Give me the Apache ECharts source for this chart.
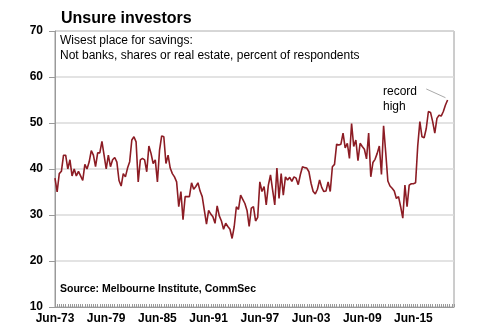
<!DOCTYPE html>
<html>
<head>
<meta charset="utf-8">
<title>Unsure investors</title>
<script src="https://cdn.jsdelivr.net/npm/echarts@6/dist/echarts.min.js"></script>
<style>
  html, body { margin: 0; padding: 0; background: #fff; }
  #chart { width: 488px; height: 330px; }
</style>
</head>
<body>
<div id="chart"></div>
<script>
// quarterly survey readings, Jun-73 onwards (% of respondents)
var values = [
  38, 35, 39, 39.5, 43, 43, 40, 42, 38.5, 40,
  38.5, 39.5, 38.5, 37.5, 41, 40, 41.5, 44, 43, 40.5,
  43.5, 43.5, 46, 43, 40, 43, 40.5, 42, 42.5, 41.5,
  37.5, 36.3, 39, 38.3, 40.2, 41.6, 46.3, 47, 45.9, 37.2,
  42, 42.3, 42, 39.4, 45, 43.4, 41.2, 42, 37.2, 44.1,
  47.2, 47, 41.2, 43, 40.2, 39, 38.3, 37.2, 31.8, 35.1,
  29, 34, 34, 34, 37, 35.6, 36.2, 37, 35.2, 34,
  31, 28, 31, 30.2, 29.6, 28.2, 32, 29.8, 28.7, 26.9,
  28.2, 27.5, 26.9, 24.9, 27.5, 31.8, 31.2, 34.3, 33.4, 32.5,
  31, 27.5, 31.5, 31.8, 28.7, 29.5, 37.2, 35.1, 36.2, 32.2,
  36.5, 38.7, 35.4, 32.2, 40.2, 33.6, 39, 34.3, 38.3, 37.6,
  38.2, 37.3, 38.3, 38, 36.6, 38.8, 40.5, 40.3, 40.2, 39.4,
  36.9, 35.1, 34.6, 35.6, 37.6, 36, 35.1, 35.2, 37.2, 35.1,
  40.5, 41, 45.4, 45.2, 45.4, 47.8, 44.6, 45.6, 42.3, 49.9,
  44.9, 46.3, 41.8, 45.6, 44.9, 44.3, 42.2, 47.8, 38.3, 41.4,
  42.1, 43.4, 45, 38.8, 49.4, 43.6, 37.4, 36.3, 35.8, 35.2,
  33.6, 34, 31.8, 29.3, 36.5, 31.8, 36.5, 36.8, 36.8, 37,
  45, 50.3, 47, 46.8, 48.8, 52.5, 52.3, 50.3, 47.8, 51,
  51.7, 51.5, 52.5, 53.9, 55
];

var tickLabels = ['Jun-73', 'Jun-79', 'Jun-85', 'Jun-91', 'Jun-97', 'Jun-03', 'Jun-09', 'Jun-15'];

// quarter names for the category axis (a few spare quarters past the last reading)
var months = ['Mar', 'Jun', 'Sep', 'Dec'];
var quarters = [];
for (var q = 1; quarters.length < 188; q++) {
  var yr = 1973 + Math.floor(q / 4);
  quarters.push(months[q % 4] + '-' + String(yr % 100).padStart(2, '0'));
}

var recordText = 'record\nhigh';
var font = '"Liberation Sans", Arial, sans-serif';

var chart = echarts.init(document.getElementById('chart'));
var option = {
  backgroundColor: '#fff',
  animation: false,
  textStyle: { fontFamily: font },
  title: {
    text: 'Unsure investors',
    left: 56, top: 6,
    textStyle: { fontSize: 16, fontWeight: 'bold', color: '#000', fontFamily: font }
  },
  grid: {
    left: 55, top: 31, width: 399, height: 276,
    show: true, borderColor: '#9a9a9a', borderWidth: 1
  },
  xAxis: {
    type: 'category',
    data: quarters,
    boundaryGap: false,
    axisLine: { lineStyle: { color: '#9a9a9a', width: 1 } },
    axisTick: { interval: 0, inside: true, length: 3, lineStyle: { color: '#9a9a9a' } },
    axisLabel: {
      interval: 0,
      margin: 6,
      fontSize: 12,
      fontWeight: 'bold',
      color: '#000',
      formatter: function (v) { return tickLabels.indexOf(v) >= 0 ? v : ''; }
    },
    splitLine: { show: false }
  },
  yAxis: {
    type: 'value',
    min: 10, max: 70, interval: 10,
    axisLine: { show: true, lineStyle: { color: '#9a9a9a' } },
    axisTick: { show: true, length: 6, lineStyle: { color: '#9a9a9a' } },
    axisLabel: { fontSize: 12, fontWeight: 'bold', color: '#000', margin: 12 },
    splitLine: { lineStyle: { color: '#dadada', width: 1.5 } }
  },
  series: [{
    type: 'line',
    data: values,
    symbol: 'none',
    lineStyle: { color: '#8c1c24', width: 1.6 },
    markLine: {
      silent: true,
      symbol: ['none', 'none'],
      lineStyle: { color: '#aaaaaa', width: 1, type: 'solid' },
      label: { show: false },
      data: [[{ coord: [quarters[174], 57.4] }, { coord: [quarters[183], 55.5] }]]
    }
  }],
  graphic: [
    {
      type: 'text', left: 60, top: 33,
      style: {
        text: 'Wisest place for savings:\nNot banks, shares or real estate, percent of respondents',
        font: '12px ' + font, fill: '#000', lineHeight: 15
      }
    },
    {
      type: 'text', left: 383, top: 84,
      style: { text: recordText, font: '12px ' + font, fill: '#000', lineHeight: 15 }
    },
    {
      type: 'text', left: 60, top: 284,
      style: { text: 'Source: Melbourne Institute, CommSec', font: 'bold 10.5px ' + font, fill: '#000' }
    }
  ]
};
chart.setOption(option);
</script>
</body>
</html>
